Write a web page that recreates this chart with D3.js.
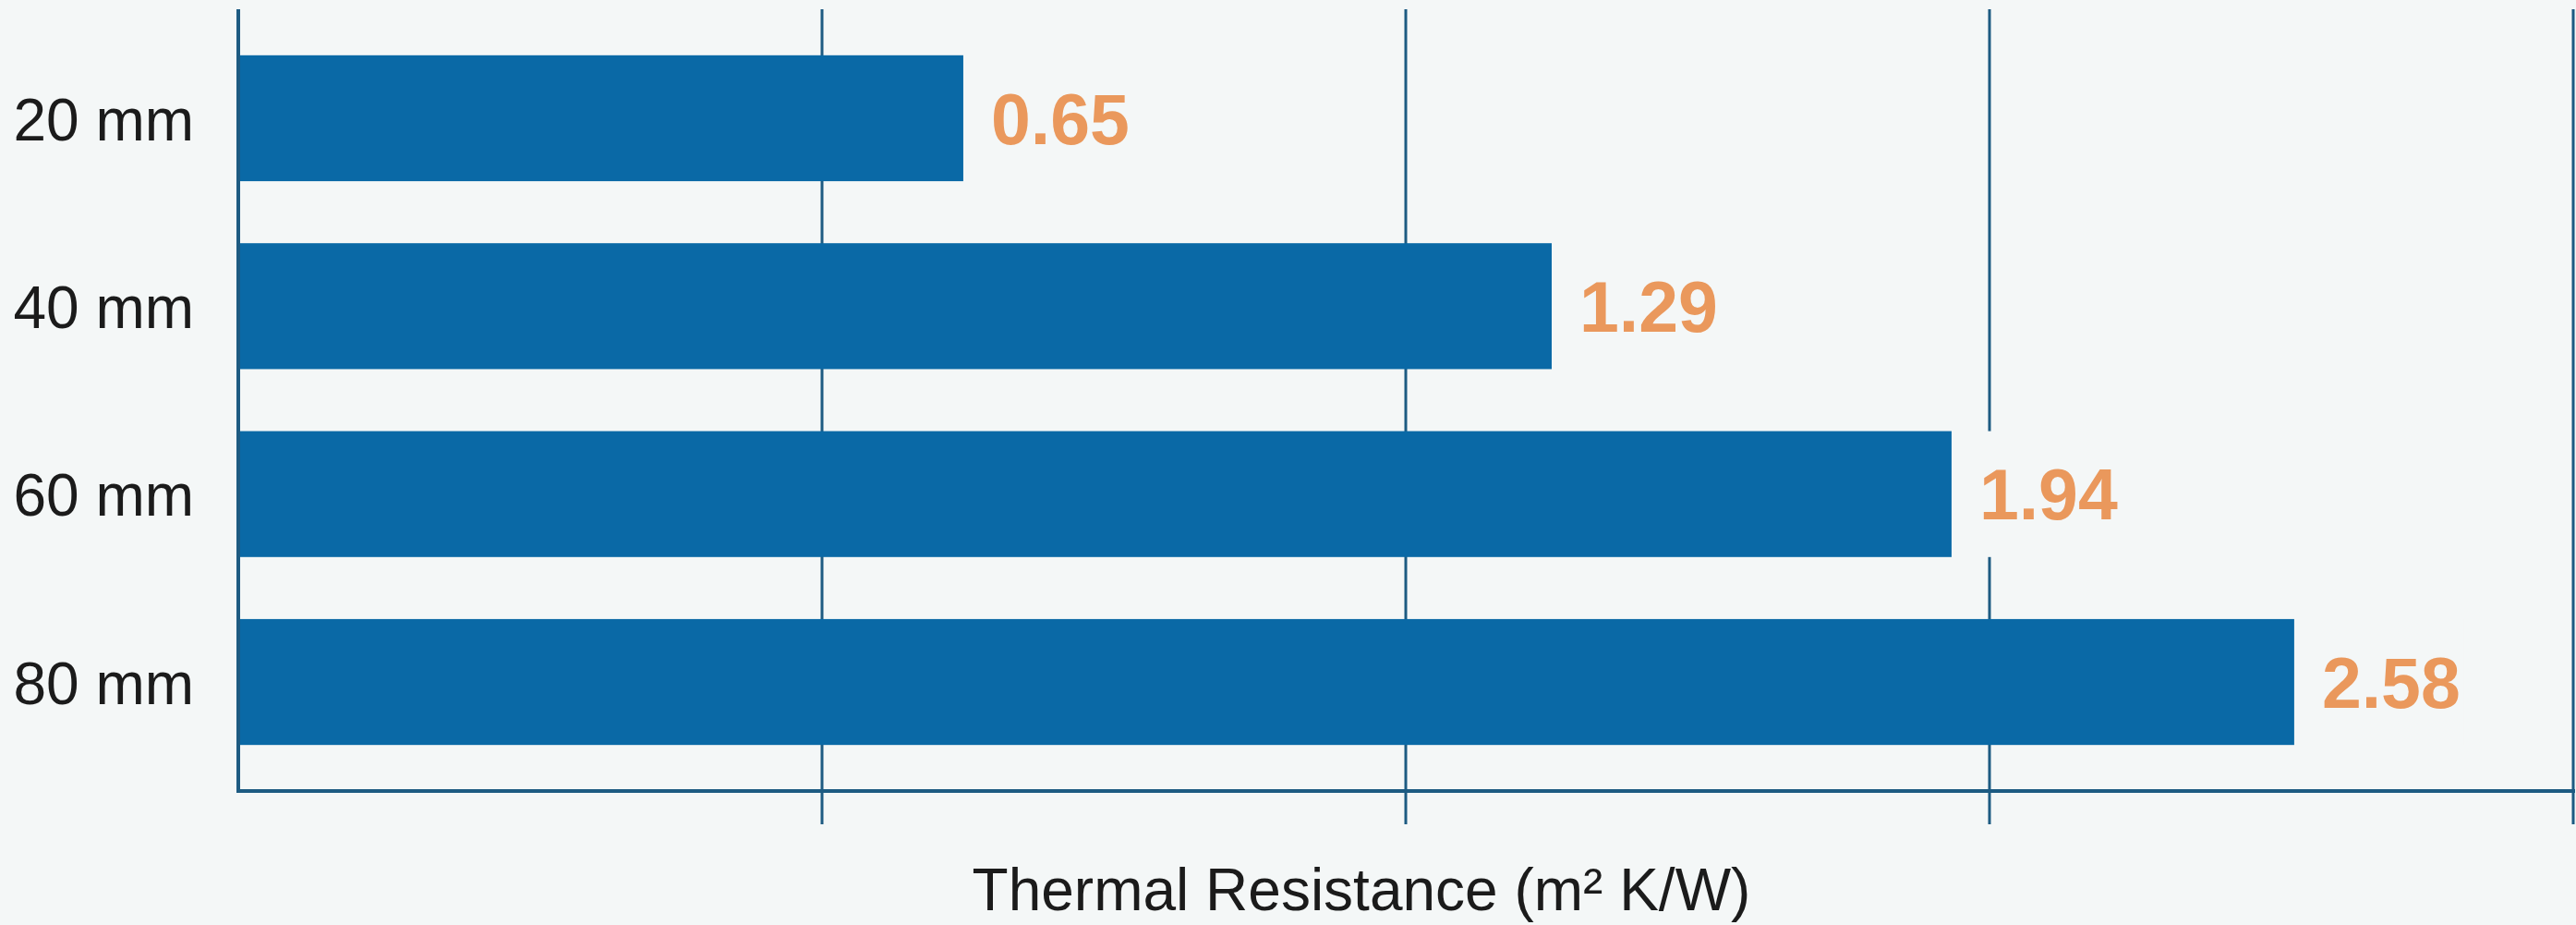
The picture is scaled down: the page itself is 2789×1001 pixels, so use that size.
<!DOCTYPE html>
<html lang="en">
<head>
    <meta charset="UTF-8">
    <title>Thermal Resistance</title>
    <script src="https://d3js.org/d3.v7.min.js"></script>
</head>
<style>
    body {
        margin: 0;
        background: #f4f7f7;
    }
    svg {
        display: block;
        font-family: "Liberation Sans", Arial, sans-serif;
    }
</style>
<body>

<script>
    // insulation thickness
    const categories = ["20 mm", "40 mm", "60 mm", "80 mm"];
    // printed values, m² K/W
    const resistance = [0.65, 1.29, 1.94, 2.58];
    // bar lengths as drawn, in gridline units (the picture does not draw them to scale with the printed values)
    const barLength = [1.242, 2.250, 2.935, 3.522];
    // unlabelled gridlines
    const gridTicks = [0, 1, 2, 3, 4];
    const axisTitle = "Thermal Resistance (m² K/W)";

    const width = 2789, height = 1001;
    const margin = {top: 10, right: 3, bottom: 145, left: 258};
    const innerW = width - margin.left - margin.right;
    const innerH = height - margin.top - margin.bottom;
    const bg = "#f4f7f7";

    const svg = d3.select("body")
            .append("svg")
            .attr("width", width)
            .attr("height", height);

    const g = svg.append("g")
            .attr("transform", `translate(${margin.left},${margin.top})`);

    const x = d3.scaleLinear()
            .domain([0, 4])
            .range([0, innerW]);

    const y = d3.scaleBand()
            .domain(categories)
            .range([0, innerH])
            .paddingInner(0.33)
            .paddingOuter(0.245);

    const axisColor = "#1d5b82";

    // vertical gridlines, each running down past the baseline as a tick
    g.append("g")
            .selectAll("line")
            .data(gridTicks.slice(1))
            .join("line")
            .attr("x1", d => x(d))
            .attr("x2", d => x(d))
            .attr("y1", 0)
            .attr("y2", innerH + 36)
            .attr("stroke", axisColor)
            .attr("stroke-width", 3);

    // bars
    g.append("g")
            .selectAll("rect")
            .data(categories)
            .join("rect")
            .attr("x", x(0))
            .attr("y", d => y(d))
            .attr("width", (d, i) => x(barLength[i]) - x(0))
            .attr("height", y.bandwidth())
            .attr("fill", "#0a69a6");

    // value labels, on a background box that hides the gridline behind them
    const fmt = d3.format(".2f");
    const labels = g.append("g")
            .selectAll("g")
            .data(categories)
            .join("g");

    const boxes = labels.append("rect")
            .attr("fill", bg);

    labels.append("text")
            .attr("x", (d, i) => x(barLength[i]) + 30)
            .attr("y", d => y(d) + y.bandwidth() / 2)
            .attr("dy", "0.36em")
            .attr("font-size", 77)
            .attr("font-weight", "bold")
            .attr("fill", "#ea985c")
            .text((d, i) => fmt(resistance[i]));

    labels.each(function(d) {
        const b = d3.select(this).select("text").node().getBBox();
        d3.select(this).select("rect")
                .attr("x", b.x - 4)
                .attr("y", y(d))
                .attr("width", b.width + 8)
                .attr("height", y.bandwidth());
    });

    // category labels
    g.append("g")
            .selectAll("text")
            .data(categories)
            .join("text")
            .attr("x", -48)
            .attr("y", d => y(d) + y.bandwidth() / 2)
            .attr("dy", "0.37em")
            .attr("text-anchor", "end")
            .attr("font-size", 64)
            .attr("fill", "#1b1b1b")
            .text(d => d);

    // axis lines
    g.append("line")
            .attr("x1", x(0)).attr("x2", x(0))
            .attr("y1", 0).attr("y2", innerH)
            .attr("stroke", axisColor)
            .attr("stroke-width", 4);

    g.append("line")
            .attr("x1", x(0) - 2).attr("x2", x(4) + 2)
            .attr("y1", innerH).attr("y2", innerH)
            .attr("stroke", axisColor)
            .attr("stroke-width", 4);

    // axis title
    g.append("text")
            .attr("x", innerW * 0.481)
            .attr("y", innerH + 129)
            .attr("text-anchor", "middle")
            .attr("font-size", 64)
            .attr("fill", "#1b1b1b")
            .text(axisTitle);
</script>
</body>
</html>
